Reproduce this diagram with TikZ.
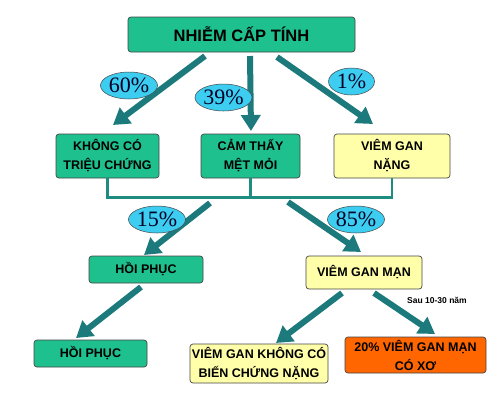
\documentclass[tikz,border=0pt]{standalone}
\usepackage{fontspec}
\setmainfont{Liberation Sans}
\newfontfamily\pctfont{Liberation Serif}
\usetikzlibrary{arrows.meta,shapes.geometric,calc}
\definecolor{boxgreen}{RGB}{30,192,142}
\definecolor{boxyellow}{RGB}{255,255,170}
\definecolor{boxorange}{RGB}{255,102,0}
\definecolor{arrowteal}{RGB}{28,122,124}
\definecolor{linkteal}{RGB}{30,140,128}
\definecolor{pctblue}{RGB}{60,205,240}
\definecolor{edgegray}{RGB}{70,70,70}
\tikzset{
  box/.style={draw=edgegray, line width=0.7pt, rounded corners=3pt, align=center, inner sep=0pt,
    font=\fontsize{12.5}{19}\selectfont\bfseries},
  greenbox/.style={box, fill=boxgreen},
  yellowbox/.style={box, fill=boxyellow},
  orangebox/.style={box, fill=boxorange},
  pct/.style={ellipse, draw=edgegray, line width=0.5pt, fill=pctblue, inner sep=0pt,
    minimum width=46pt, minimum height=27pt, font=\pctfont\fontsize{22}{22}\selectfont, text=black!85!blue},
  bigarrow/.style={draw=arrowteal, line width=6pt,
    -{Triangle[length=16pt,width=19pt]}, fill=arrowteal},
  link/.style={draw=linkteal, line width=2.2pt}
}
\begin{document}
\begin{tikzpicture}[x=1pt,y=-1pt]
\useasboundingbox (0,0) rectangle (500,400);
\fill[white] (0,0) rectangle (500,400);

% nodes
\node[greenbox, minimum width=227pt, minimum height=35pt, font=\fontsize{16.5}{20}\selectfont\bfseries] (top) at (241.5,34.5) {NHIỄM CẤP TÍNH};
\node[greenbox, minimum width=103pt, minimum height=44pt] (k1) at (107.5,156) {KHÔNG CÓ\\TRIỆU CHỨNG};
\node[greenbox, minimum width=99pt, minimum height=44pt] (k2) at (250.5,156) {CẢM THẤY\\MỆT MỎI};
\node[yellowbox, minimum width=116pt, minimum height=44pt] (k3) at (392,156) {VIÊM GAN\\NẶNG};
\node[greenbox, minimum width=114pt, minimum height=27pt] (hp1) at (146,269.5) {HỒI PHỤC};
\node[yellowbox, minimum width=116pt, minimum height=33pt] (vgm) at (364,272.5) {VIÊM GAN MẠN};
\node[greenbox, minimum width=113pt, minimum height=27pt] (hp2) at (90.5,353.5) {HỒI PHỤC};
\node[yellowbox, minimum width=138pt, minimum height=39pt] (vgk) at (259,363.5) {VIÊM GAN KHÔNG CÓ\\BIẾN CHỨNG NẶNG};
\node[orangebox, minimum width=141pt, minimum height=36pt] (xo) at (415.5,355) {20\% VIÊM GAN MẠN\\CÓ XƠ};

% bracket connector
\coordinate (bar) at (250,197.5);
\draw[link] (k1.south) -- (k1.south |- bar) -- (k3.south |- bar) -- (k3.south);
\draw[link] (k2.south) -- (k2.south |- bar);

% arrow endpoints
\coordinate (a1s) at (205,56);  \coordinate (a1e) at (113,125);
\coordinate (a2s) at (250,56);  \coordinate (a2e) at (251,131);
\coordinate (a3s) at (277,57);  \coordinate (a3e) at (373,124);
\coordinate (b1s) at (210,203); \coordinate (b1e) at (144,255);
\coordinate (b2s) at (288,202); \coordinate (b2e) at (361,252);
\coordinate (c1s) at (141,287); \coordinate (c1e) at (76,338);
\coordinate (d1s) at (342,293); \coordinate (d1e) at (276,343);
\coordinate (d2s) at (374,293); \coordinate (d2e) at (435,334);

\draw[bigarrow] (a1s) -- (a1e);
\draw[bigarrow] (a2s) -- (a2e);
\draw[bigarrow] (a3s) -- (a3e);
\draw[bigarrow] (b1s) -- (b1e);
\draw[bigarrow] (b2s) -- (b2e);
\draw[bigarrow] (c1s) -- (c1e);
\draw[bigarrow] (d1s) -- (d1e);
\draw[bigarrow] (d2s) -- (d2e);

% percentages
\node[pct] (p60) at (129,85.5) {60\%};
\node[pct] (p39) at (223.5,97.5) {39\%};
\node[pct] (p1) at (351.5,81.5) {1\%};
\node[pct] (p15) at (157,219.5) {15\%};
\node[pct] (p85) at (356,219.5) {85\%};

\node[font=\fontsize{8.5}{10}\selectfont\bfseries, inner sep=0pt] (sau) at (437,300.5) {Sau 10-30 năm};
\end{tikzpicture}
\end{document}
